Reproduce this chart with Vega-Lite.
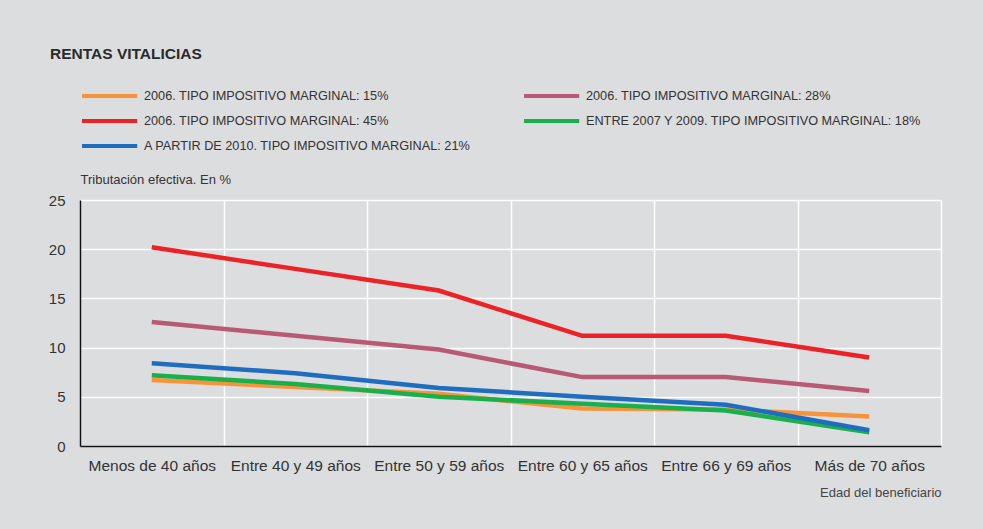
{
  "$schema": "https://vega.github.io/schema/vega-lite/v6.json",
  "autosize": {"type": "none"},
  "width": 861,
  "height": 246,
  "padding": {"left": 80, "top": 200, "right": 42, "bottom": 83},
  "background": "#dcdddf",
  "title": {
    "text": "RENTAS VITALICIAS",
    "anchor": "start",
    "frame": "group",
    "dx": -30,
    "offset": 20,
    "fontSize": 15.5,
    "fontWeight": "bold",
    "font": "Liberation Sans",
    "color": "#2a2a2a"
  },
  "config": {
    "view": {"stroke": null},
    "font": "Liberation Sans"
  },
  "data": {
    "values": [
      {"serie": "2006. TIPO IMPOSITIVO MARGINAL: 15%", "edad": "Menos de 40 años", "valor": 6.7},
      {"serie": "2006. TIPO IMPOSITIVO MARGINAL: 15%", "edad": "Entre 40 y 49 años", "valor": 6.0},
      {"serie": "2006. TIPO IMPOSITIVO MARGINAL: 15%", "edad": "Entre 50 y 59 años", "valor": 5.3},
      {"serie": "2006. TIPO IMPOSITIVO MARGINAL: 15%", "edad": "Entre 60 y 65 años", "valor": 3.8},
      {"serie": "2006. TIPO IMPOSITIVO MARGINAL: 15%", "edad": "Entre 66 y 69 años", "valor": 3.7},
      {"serie": "2006. TIPO IMPOSITIVO MARGINAL: 15%", "edad": "Más de 70 años", "valor": 3.0},
      {"serie": "ENTRE 2007 Y 2009. TIPO IMPOSITIVO MARGINAL: 18%", "edad": "Menos de 40 años", "valor": 7.2},
      {"serie": "ENTRE 2007 Y 2009. TIPO IMPOSITIVO MARGINAL: 18%", "edad": "Entre 40 y 49 años", "valor": 6.3},
      {"serie": "ENTRE 2007 Y 2009. TIPO IMPOSITIVO MARGINAL: 18%", "edad": "Entre 50 y 59 años", "valor": 5.0},
      {"serie": "ENTRE 2007 Y 2009. TIPO IMPOSITIVO MARGINAL: 18%", "edad": "Entre 60 y 65 años", "valor": 4.3},
      {"serie": "ENTRE 2007 Y 2009. TIPO IMPOSITIVO MARGINAL: 18%", "edad": "Entre 66 y 69 años", "valor": 3.6},
      {"serie": "ENTRE 2007 Y 2009. TIPO IMPOSITIVO MARGINAL: 18%", "edad": "Más de 70 años", "valor": 1.4},
      {"serie": "A PARTIR DE 2010. TIPO IMPOSITIVO MARGINAL: 21%", "edad": "Menos de 40 años", "valor": 8.4},
      {"serie": "A PARTIR DE 2010. TIPO IMPOSITIVO MARGINAL: 21%", "edad": "Entre 40 y 49 años", "valor": 7.4},
      {"serie": "A PARTIR DE 2010. TIPO IMPOSITIVO MARGINAL: 21%", "edad": "Entre 50 y 59 años", "valor": 5.9},
      {"serie": "A PARTIR DE 2010. TIPO IMPOSITIVO MARGINAL: 21%", "edad": "Entre 60 y 65 años", "valor": 5.0},
      {"serie": "A PARTIR DE 2010. TIPO IMPOSITIVO MARGINAL: 21%", "edad": "Entre 66 y 69 años", "valor": 4.2},
      {"serie": "A PARTIR DE 2010. TIPO IMPOSITIVO MARGINAL: 21%", "edad": "Más de 70 años", "valor": 1.6},
      {"serie": "2006. TIPO IMPOSITIVO MARGINAL: 28%", "edad": "Menos de 40 años", "valor": 12.6},
      {"serie": "2006. TIPO IMPOSITIVO MARGINAL: 28%", "edad": "Entre 40 y 49 años", "valor": 11.2},
      {"serie": "2006. TIPO IMPOSITIVO MARGINAL: 28%", "edad": "Entre 50 y 59 años", "valor": 9.8},
      {"serie": "2006. TIPO IMPOSITIVO MARGINAL: 28%", "edad": "Entre 60 y 65 años", "valor": 7.0},
      {"serie": "2006. TIPO IMPOSITIVO MARGINAL: 28%", "edad": "Entre 66 y 69 años", "valor": 7.0},
      {"serie": "2006. TIPO IMPOSITIVO MARGINAL: 28%", "edad": "Más de 70 años", "valor": 5.6},
      {"serie": "2006. TIPO IMPOSITIVO MARGINAL: 45%", "edad": "Menos de 40 años", "valor": 20.2},
      {"serie": "2006. TIPO IMPOSITIVO MARGINAL: 45%", "edad": "Entre 40 y 49 años", "valor": 18.0},
      {"serie": "2006. TIPO IMPOSITIVO MARGINAL: 45%", "edad": "Entre 50 y 59 años", "valor": 15.8},
      {"serie": "2006. TIPO IMPOSITIVO MARGINAL: 45%", "edad": "Entre 60 y 65 años", "valor": 11.2},
      {"serie": "2006. TIPO IMPOSITIVO MARGINAL: 45%", "edad": "Entre 66 y 69 años", "valor": 11.2},
      {"serie": "2006. TIPO IMPOSITIVO MARGINAL: 45%", "edad": "Más de 70 años", "valor": 9.0}
    ]
  },
  "mark": {"type": "line", "strokeWidth": 4.5, "strokeCap": "butt"},
  "encoding": {
    "x": {
      "field": "edad",
      "type": "ordinal",
      "sort": null,
      "scale": {"paddingInner": 0, "paddingOuter": 0},
      "axis": {
        "title": "Edad del beneficiario",
        "titleFontSize": 13,
        "titleFontWeight": "normal",
        "titleColor": "#444444",
        "titleAnchor": "end",
        "titleAlign": "right",
        "titleX": 861,
        "titleY": 40,
        "labelAngle": 0,
        "labelFontSize": 15.5,
        "labelColor": "#333333",
        "labelPadding": 12,
        "ticks": false,
        "tickBand": "extent",
        "grid": true,
        "gridColor": "#ffffff",
        "gridWidth": 1.5,
        "gridOpacity": 1,
        "domainColor": "#111111",
        "domainWidth": 1.5
      }
    },
    "y": {
      "field": "valor",
      "type": "quantitative",
      "scale": {"domain": [0, 25], "nice": false},
      "axis": {
        "title": "Tributación efectiva. En %",
        "titleAngle": 0,
        "titleX": 0,
        "titleY": -21,
        "titleAlign": "left",
        "titleBaseline": "middle",
        "titleFontSize": 13,
        "titleFontWeight": "normal",
        "titleColor": "#333333",
        "values": [0, 5, 10, 15, 20, 25],
        "labelFontSize": 15,
        "labelColor": "#333333",
        "labelPadding": 15,
        "ticks": false,
        "grid": true,
        "gridColor": "#ffffff",
        "gridWidth": 1.5,
        "gridOpacity": 1,
        "domainColor": "#111111",
        "domainWidth": 1.5
      }
    },
    "color": {
      "field": "serie",
      "type": "nominal",
      "scale": {
        "domain": [
          "2006. TIPO IMPOSITIVO MARGINAL: 15%",
          "2006. TIPO IMPOSITIVO MARGINAL: 45%",
          "A PARTIR DE 2010. TIPO IMPOSITIVO MARGINAL: 21%",
          "2006. TIPO IMPOSITIVO MARGINAL: 28%",
          "ENTRE 2007 Y 2009. TIPO IMPOSITIVO MARGINAL: 18%"
        ],
        "range": ["#f7943a", "#ec2227", "#1f6dbf", "#b85a75", "#18b04b"]
      },
      "legend": {
        "title": null,
        "orient": "none",
        "legendX": 0,
        "legendY": -118,
        "columns": 2,
        "columnPadding": 45,
        "rowPadding": 3,
        "symbolType": "M-1,0H3.6",
        "symbolSize": 576,
        "symbolStrokeWidth": 4,
        "labelOffset": 36,
        "labelFontSize": 12.7,
        "labelColor": "#333333",
        "labelLimit": 500
      }
    }
  }
}
